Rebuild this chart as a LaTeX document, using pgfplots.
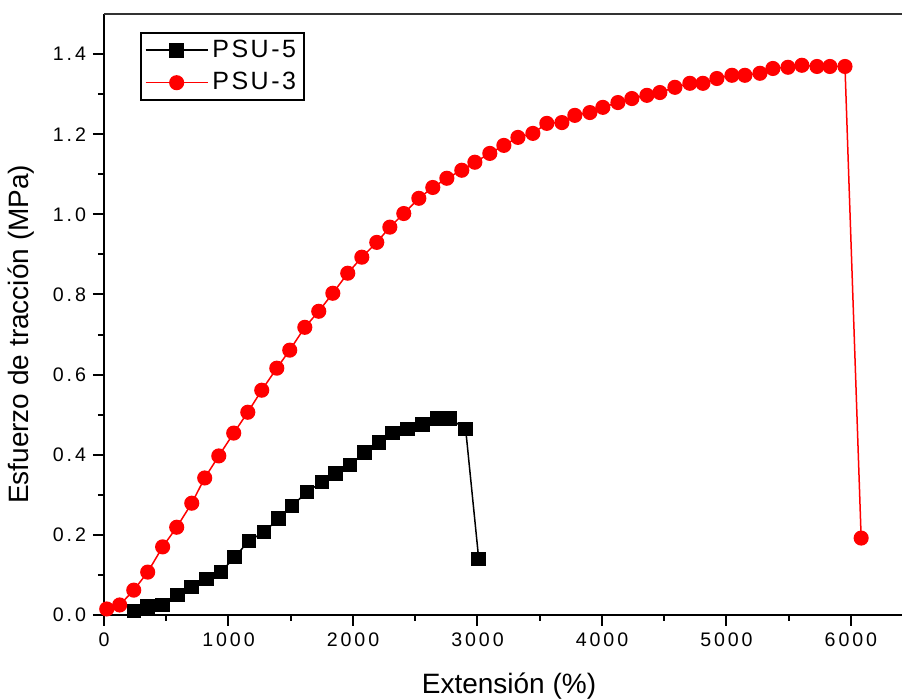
\documentclass[border=0pt]{standalone}
\usepackage{fontspec}
\setmainfont{Liberation Sans}
\newfontfamily\spaced[LetterSpace=15]{Liberation Sans}
\newfontfamily\legspaced[LetterSpace=10]{Liberation Sans}
\usepackage{pgfplots}
\pgfplotsset{compat=1.18}

\begin{document}
\begin{tikzpicture}
\useasboundingbox (-52pt,-42.5pt) rectangle (399pt,307.5pt);
\begin{axis}[
  scale only axis,
  width=399pt, height=300.5pt,
  xmin=0, xmax=6410,
  ymin=0, ymax=1.5,
  clip=false,
  axis x line*=bottom,
  axis y line*=left,
  axis line style={-, line width=1pt},
  tick align=outside,
  tick style={line width=1pt, black},
  major tick length=5.5pt,
  minor tick length=3pt,
  xtick={0,1000,...,6000},
  minor xtick={500,1500,...,5500},
  ytick={0,0.2,...,1.4},
  minor ytick={0.1,0.3,...,1.3},
  /pgf/number format/assume math mode=true,
  tick label style={font=\fontsize{9.8}{11}\spaced},
  xticklabel style={/pgf/number format/1000 sep={}},
  yticklabel style={/pgf/number format/.cd, fixed, fixed zerofill, precision=1},
  xlabel={Extensión (\%)},
  ylabel={Esfuerzo de tracción (MPa)},
  label style={font=\fontsize{14}{16}\selectfont},
  xlabel style={at={(axis description cs:0.5075,0)}, anchor=center, yshift=-35.5pt},
  ylabel style={at={(axis description cs:-0.104,0.467)}, anchor=center},
  legend style={at={(rel axis cs:0.045,0.97)}, anchor=north west,
    draw=black, line width=1pt, font=\fontsize{12.5}{14}\legspaced,
    inner xsep=2pt, inner ysep=1.5pt, row sep=2pt, cells={anchor=west}},
  legend image code/.code={\draw[mark repeat=2, mark phase=2, #1]
    plot coordinates {(0pt,0pt) (15.5pt,0pt) (31pt,0pt)};},
]
\addplot[black, line width=0.75pt, mark=square*, mark size=3.3pt] coordinates {
  (240,0.010) (350,0.022) (470,0.025) (590,0.050) (705,0.070) (825,0.090)
  (940,0.107) (1050,0.145) (1165,0.185) (1285,0.207) (1400,0.240) (1510,0.272)
  (1630,0.307) (1750,0.332) (1860,0.354) (1975,0.374) (2095,0.406) (2210,0.431)
  (2320,0.454) (2440,0.464) (2560,0.476) (2675,0.490) (2780,0.490) (2905,0.464)
  (3010,0.140)
};
\addlegendentry{PSU-5}
\addplot[red, line width=0.75pt, mark=*, mark size=3.4pt, mark options={fill=red, draw=red}] coordinates {
  (22,0.015) (126,0.025) (239,0.062) (351,0.107) (471,0.170) (584,0.219)
  (705,0.279) (809,0.342) (922,0.397) (1042,0.454) (1155,0.506) (1267,0.561)
  (1388,0.616) (1492,0.661) (1613,0.718) (1725,0.758) (1838,0.803) (1958,0.853)
  (2071,0.893) (2191,0.930) (2296,0.968) (2408,1.002) (2529,1.040) (2641,1.067)
  (2754,1.090) (2874,1.110) (2979,1.130) (3099,1.152) (3212,1.172) (3325,1.192)
  (3445,1.202) (3557,1.227) (3678,1.229) (3782,1.247) (3903,1.254) (4007,1.267)
  (4128,1.279) (4240,1.289) (4361,1.297) (4465,1.304) (4586,1.317) (4706,1.327)
  (4811,1.327) (4923,1.339) (5044,1.347) (5148,1.347) (5269,1.352) (5373,1.364)
  (5494,1.367) (5606,1.372) (5727,1.369) (5831,1.369) (5952,1.369) (6082,0.192)
};
\addlegendentry{PSU-3}
\draw[line width=1pt, black!80] (rel axis cs:0,1) -- (rel axis cs:1,1);
\end{axis}
\end{tikzpicture}
\end{document}
